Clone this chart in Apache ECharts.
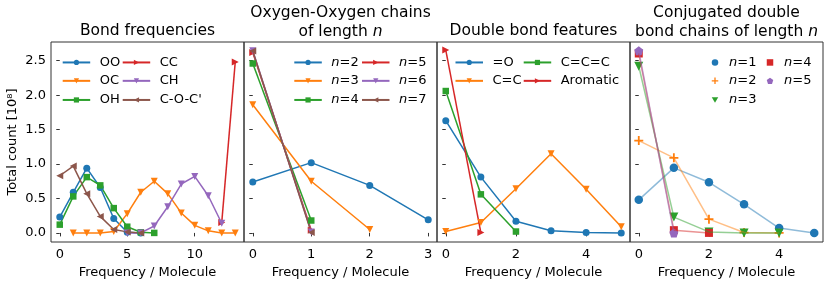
<!DOCTYPE html>
<html><head><meta charset="utf-8">
<script src="https://cdn.jsdelivr.net/npm/echarts@6/dist/echarts.min.js"></script>
<style>html,body{margin:0;padding:0;background:#fff}#c{width:830px;height:284px}</style>
</head><body><div id="c"></div>
<script>
// ---------- data ----------
// Panel 1: Bond frequencies (start x, values)
const bondOO = [0.23, 0.59, 0.94, 0.66, 0.21, 0.01, 0.0];           // x from 0
const bondOC = [0.0, 0.0, 0.0, 0.02, 0.28, 0.59, 0.75, 0.57, 0.29, 0.11, 0.03, 0.0, 0.0]; // x from 1
const bondOH = [0.12, 0.53, 0.81, 0.69, 0.36, 0.09, 0.01, 0.0];     // x from 0
const bondCC = [0.15, 2.48];                                        // x from 12
const bondCH = [0.0, 0.0, 0.10, 0.38, 0.71, 0.82, 0.54, 0.14];      // x from 5
const bondCOC = [0.83, 0.97, 0.57, 0.24, 0.05, 0.015, 0.0];         // x from 0
const bondStart = [0, 1, 0, 12, 5, 0];

// Panel 2: Oxygen-Oxygen chains (x from 0)
const oo2 = [0.74, 1.02, 0.69, 0.19];
const oo3 = [1.86, 0.75, 0.05];
const oo4 = [2.46, 0.18];
const oo5 = [2.62, 0.04];
const oo6 = [2.645, 0.015];
const oo7 = [2.64, 0.005];

// Panel 3: Double bond features (x from 0)
const dbO = [1.63, 0.81, 0.17, 0.03, 0.005, 0.0];
const dbCC = [0.02, 0.15, 0.64, 1.15, 0.635, 0.09];
const dbCCC = [2.06, 0.56, 0.02];
const dbArom = [2.655, 0.005];

// Panel 4: Conjugated double bond chains (x from 0)
const cj1 = [0.48, 0.945, 0.735, 0.415, 0.07, 0.0];
const cj2 = [1.34, 1.09, 0.20, 0.005, 0.0];
const cj3 = [2.42, 0.23, 0.015, 0.0, 0.0];
const cj4 = [2.605, 0.04, 0.0];
const cj5 = [2.645, 0.0];

// tick labels
const yTicks = [0, 0.5, 1.0, 1.5, 2.0, 2.5];
const xTicks1 = [0, 5, 10];
const xTicks2 = [0, 1, 2, 3];
const xTicks3 = [0, 2, 4];
const xTicks4 = [0, 2, 4];

// ---------- helpers ----------
const C = {blue:'#1f77b4', orange:'#ff7f0e', green:'#2ca02c', red:'#d62728', purple:'#9467bd', brown:'#8c564b'};
const FONT = 'DejaVu Sans';
const pts = (start, ys) => ys.map((v, i) => [start + i, v]);
const PENT = 'path://M0,-1L0.951,-0.309L0.588,0.809L-0.588,0.809L-0.951,-0.309Z';
const PLUS = 'path://M4,0H6V4H10V6H6V10H4V6H0V4H4Z';
const DTRI = 'path://M0,0L10,0L5,8.66Z';
const SQ = 'rect';

const grids = [
  {left: 51, top: 42, width: 193, height: 200},
  {left: 244, top: 42, width: 193, height: 200},
  {left: 437, top: 42, width: 193, height: 200},
  {left: 630, top: 42, width: 193, height: 200}
].map(g => Object.assign(g, {show: true, borderColor: '#333', borderWidth: 1, containLabel: false}));

const xRanges = [[-0.65, 13.65], [-0.15, 3.15], [-0.25, 5.25], [-0.25, 5.25]];
const xTickSets = [xTicks1, xTicks2, xTicks3, xTicks4];
const xAxes = xRanges.map((r, i) => ({
  type: 'value', gridIndex: i, min: r[0], max: r[1],
  name: 'Frequency / Molecule', nameLocation: 'middle', nameGap: 20,
  nameTextStyle: {fontFamily: FONT, fontSize: 13, color: '#000'},
  axisLine: {show: false},
  axisTick: {show: true, length: 3.5, lineStyle: {color: '#333', width: 1}, customValues: xTickSets[i]},
  axisLabel: {show: true, margin: 6, fontFamily: FONT, fontSize: 13, color: '#000', customValues: xTickSets[i],
    formatter: v => String(Math.round(v))},
  splitLine: {show: false}
}));
const yAxes = [0, 1, 2, 3].map(i => ({
  type: 'value', gridIndex: i, min: -0.132, max: 2.772,
  name: i === 0 ? 'Total count [10⁸]' : '', nameLocation: 'middle', nameGap: 32,
  nameTextStyle: {fontFamily: FONT, fontSize: 13, color: '#000'},
  axisLine: {show: false},
  axisTick: {show: true, length: 3.5, lineStyle: {color: '#333', width: 1}, customValues: yTicks},
  axisLabel: {show: i === 0, margin: 5, fontFamily: FONT, fontSize: 13, color: '#000', customValues: yTicks,
    formatter: v => v.toFixed(1)},
  splitLine: {show: false}
}));

const series = [];
function lineS(name, g, data, color, symbol, rot, size) {
  series.push({
    name, type: 'line', xAxisIndex: g, yAxisIndex: g, data,
    symbol, symbolSize: size || 7, symbolRotate: rot || 0, showAllSymbol: true,
    lineStyle: {color, width: 1.5}, itemStyle: {color, borderWidth: 0},
    emphasis: {disabled: true}, animation: false, clip: false
  });
}
// panel 1
lineS('p1_OO', 0, pts(bondStart[0], bondOO), C.blue, 'circle');
lineS('p1_OC', 0, pts(bondStart[1], bondOC), C.orange, 'triangle', 180);
lineS('p1_OH', 0, pts(bondStart[2], bondOH), C.green, SQ, 0, 6.5);
lineS('p1_CC', 0, pts(bondStart[3], bondCC), C.red, 'triangle', -90);
lineS('p1_CH', 0, pts(bondStart[4], bondCH), C.purple, 'triangle', 180);
lineS('p1_COC', 0, pts(bondStart[5], bondCOC), C.brown, 'triangle', 90);
// panel 2
lineS('p2_2', 1, pts(0, oo2), C.blue, 'circle');
lineS('p2_3', 1, pts(0, oo3), C.orange, 'triangle', 180);
lineS('p2_4', 1, pts(0, oo4), C.green, SQ, 0, 6.5);
lineS('p2_5', 1, pts(0, oo5), C.red, 'triangle', -90);
lineS('p2_6', 1, pts(0, oo6), C.purple, 'triangle', 180);
lineS('p2_7', 1, pts(0, oo7), C.brown, 'triangle', 90);
// panel 3
lineS('p3_O', 2, pts(0, dbO), C.blue, 'circle');
lineS('p3_CC', 2, pts(0, dbCC), C.orange, 'triangle', 180);
lineS('p3_CCC', 2, pts(0, dbCCC), C.green, SQ, 0, 6.5);
lineS('p3_Ar', 2, pts(0, dbArom), C.red, 'triangle', -90);
// panel 4: faint lines, then markers
const cj = [cj1, cj2, cj3, cj4, cj5];
const cjCol = [C.blue, C.orange, C.green, C.red, C.purple];
const cjSym = ['circle', PLUS, DTRI, SQ, PENT];
const cjSize = [8.5, 9, 9, 8, 9];
cj.forEach((d, i) => series.push({
  name: 'p4_line' + i, type: 'line', xAxisIndex: 3, yAxisIndex: 3, data: pts(0, d),
  showSymbol: false, lineStyle: {color: cjCol[i], width: 1.5, opacity: 0.5},
  emphasis: {disabled: true}, animation: false, clip: false
}));
cj.forEach((d, i) => series.push({
  name: 'p4_' + (i + 1), type: 'scatter', xAxisIndex: 3, yAxisIndex: 3, data: pts(0, d),
  symbol: cjSym[i], symbolSize: cjSize[i],
  itemStyle: {color: cjCol[i], opacity: 1}, emphasis: {disabled: true}, animation: false, clip: false
}));

// ---------- legends ----------
const legends = [];
const rows = [59.2, 77.6, 96.7];
const rich = {i: {fontFamily: FONT, fontSize: 13, fontStyle: 'italic', color: '#000'}};
function leg(name, label, x, row, w, h, pad, icon) {
  legends.push({
    data: [icon ? {name, icon} : name], left: x, top: rows[row] - h / 2, itemWidth: w, itemHeight: h,
    selectedMode: false, padding: 0, formatter: () => label,
    textStyle: {fontFamily: FONT, fontSize: 13, color: '#000', padding: [0, 0, 0, pad], rich}
  });
}
const LW = 27.5, LH = 6.5, LP = 4.5;
// panel 1
leg('p1_OO', 'OO', 61.7, 0, LW, LH, LP);
leg('p1_OC', 'OC', 61.7, 1, LW, LH, LP);
leg('p1_OH', 'OH', 61.7, 2, LW, LH, LP);
leg('p1_CC', 'CC', 121.7, 0, LW, LH, LP);
leg('p1_CH', 'CH', 121.7, 1, LW, LH, LP);
leg('p1_COC', "C-O-C'", 121.7, 2, LW, LH, LP);
// panel 2
leg('p2_2', '{i|n}=2', 293.3, 0, LW, LH, LP);
leg('p2_3', '{i|n}=3', 293.3, 1, LW, LH, LP);
leg('p2_4', '{i|n}=4', 293.3, 2, LW, LH, LP);
leg('p2_5', '{i|n}=5', 361, 0, LW, LH, LP);
leg('p2_6', '{i|n}=6', 361, 1, LW, LH, LP);
leg('p2_7', '{i|n}=7', 361, 2, LW, LH, LP);
// panel 3
leg('p3_O', '=O', 454.5, 0, LW, LH, LP);
leg('p3_CC', 'C=C', 454.5, 1, LW, LH, LP);
leg('p3_CCC', 'C=C=C', 522.7, 0, LW, LH, LP);
leg('p3_Ar', 'Aromatic', 522.7, 1, LW, LH, LP);
// panel 4
leg('p4_1', '{i|n}=1', 711.75, 0, 6.5, 6.5, 5.75, 'circle');
leg('p4_2', '{i|n}=2', 711.75, 1, 6.5, 6.5, 5.75, PLUS);
leg('p4_3', '{i|n}=3', 711.75, 2, 6.5, 6.5, 5.75, DTRI);
leg('p4_4', '{i|n}=4', 766.75, 0, 6.5, 6.5, 5.75, 'rect');
leg('p4_5', '{i|n}=5', 766.75, 1, 6.5, 6.5, 5.75, PENT);

// ---------- titles ----------
const tStyle = {fontFamily: FONT, fontSize: 15.5, fontWeight: 'normal', color: '#000', lineHeight: 19,
  rich: {i: {fontFamily: FONT, fontSize: 15.5, fontStyle: 'italic', color: '#000', lineHeight: 19}}};
const titles = [
  {text: 'Bond frequencies', left: 147.5, top: 21.5},
  {text: 'Oxygen-Oxygen chains\nof length {i|n}', left: 340.5, top: 3.5},
  {text: 'Double bond features', left: 533.5, top: 21.5},
  {text: 'Conjugated double\nbond chains of length {i|n}', left: 726.5, top: 3.5}
].map(t => Object.assign(t, {textAlign: 'center', padding: 0, textStyle: tStyle}));

const chart = echarts.init(document.getElementById('c'), null, {renderer: 'canvas'});
chart.setOption({
  animation: false, backgroundColor: '#fff',
  title: titles, grid: grids, xAxis: xAxes, yAxis: yAxes, legend: legends, series
});
</script></body></html>
